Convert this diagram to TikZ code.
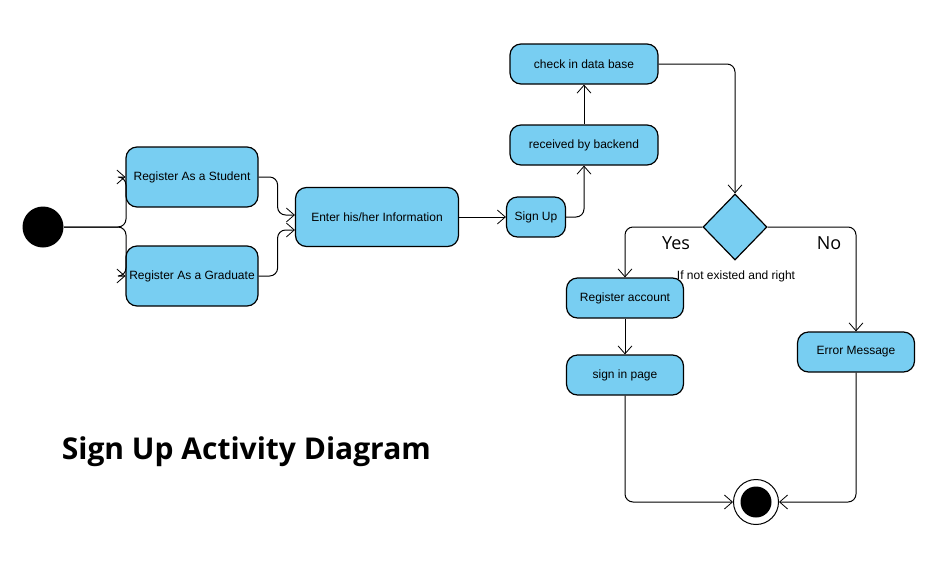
\documentclass[tikz,border=0pt]{standalone}
\usepackage{fontspec}
\setmainfont{Liberation Sans}
\newfontfamily\titlefont{Open Sans}
\usetikzlibrary{arrows.meta,shapes.geometric}
\definecolor{actblue}{RGB}{120,206,242}

\begin{document}
\begin{tikzpicture}[x=1pt,y=-1pt,line width=1pt,
    >={Straight Barb[length=8pt,width=14pt,line width=0.8pt]},
    act/.style={draw,line width=1.2pt,fill=actblue,rounded corners=11pt,
      minimum height=40pt,inner sep=2pt,font=\fontsize{12}{14}\selectfont},
    flow/.style={->,rounded corners=8pt},
    lbl/.style={font=\titlefont\fontsize{18}{20}\selectfont}]
  \useasboundingbox (0,0) rectangle (939,584);
  \node[circle,fill=black,minimum size=41pt,inner sep=0pt] (start) at (43,227) {};
  \node[act,minimum width=132pt,minimum height=60pt] (student) at (192,177) {Register As a Student};
  \node[act,minimum width=132pt,minimum height=60pt] (graduate) at (192,276) {Register As a Graduate};
  \node[act,minimum width=163pt,minimum height=59pt] (info) at (377,217) {Enter his/her Information};
  \node[act,minimum width=59pt] (signup) at (536,217) {Sign Up};
  \node[act,minimum width=148pt] (backend) at (584,145) {received by backend};
  \node[act,minimum width=148pt] (check) at (584,64) {check in data base};
  \node[diamond,draw,line width=1.2pt,fill=actblue,minimum width=64pt,minimum height=66pt,inner sep=0pt] (decide) at (735,227) {};
  \node[act,minimum width=117pt] (account) at (625,298) {Register account};
  \node[act,minimum width=117pt] (signin) at (625,375) {sign in page};
  \node[act,minimum width=117pt] (error) at (856,352) {Error Message};
  \node[circle,draw,minimum size=45pt,inner sep=0pt] (final) at (756,502) {};
  \node[circle,fill=black,minimum size=31pt,inner sep=0pt] (finaldot) at (final) {};
  \node[lbl] (yes) at (676,243) {Yes};
  \node[lbl] (no) at (829,243) {No};
  \node[font=\fontsize{12}{14}\selectfont] (cond) at (736,276) {If not existed and right};
  \node[anchor=base west,font=\titlefont\bfseries\fontsize{30}{34}\selectfont] (title) at (58,459) {Sign Up Activity Diagram};

  \draw[flow] (start.east) -- ++(62,0) |- (student.west);
  \draw[flow] (start.east) -- ++(62,0) |- (graduate.west);
  \draw[flow] (student.east) -- ++(19,0) |- ([yshift=2pt]info.west);
  \draw[flow] (graduate.east) -- ++(19,0) |- ([yshift=-13pt]info.west);
  \draw[->] (info) -- (signup);
  \draw[flow] (signup.east) -| (backend.south);
  \draw[->] (backend) -- (check);
  \draw[flow] (check.east) -| (decide.north);
  \draw[flow] (decide.west) -| (account.north);
  \draw[flow] (decide.east) -| (error.north);
  \draw[->] (account) -- (signin);
  \draw[flow] (signin.south) |- (final.west);
  \draw[flow] (error.south) |- (final.east);
\end{tikzpicture}
\end{document}
